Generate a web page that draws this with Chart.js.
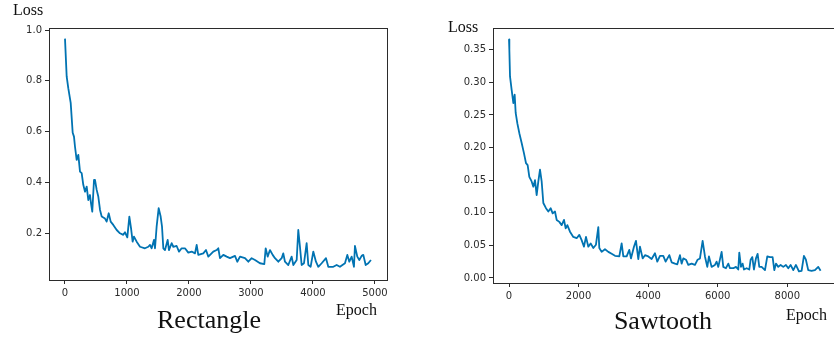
<!DOCTYPE html>
<html>
<head>
<meta charset="utf-8">
<script src="https://cdn.jsdelivr.net/npm/chart.js@4"></script>
<style>
  html, body { margin:0; padding:0; background:#fff; width:834px; height:337px; overflow:hidden; }
  .wrap { position:absolute; top:0; height:337px; }
  .lbl { position:absolute; font-family:"Liberation Serif", serif; line-height:1; color:#111; white-space:nowrap; }
  .small { font-size:16px; }
  .big { font-size:26px; transform:translateX(-50%); }
</style>
</head>
<body>
<div class="wrap" style="left:0;width:420px"><canvas id="chart-rect" width="420" height="337"></canvas></div>
<div class="wrap" style="left:420px;width:420px"><canvas id="chart-saw" width="420" height="337"></canvas></div>

<div class="lbl small" style="left:13px;top:2px">Loss</div>
<div class="lbl small" style="left:336px;top:302px">Epoch</div>
<div class="lbl big" style="left:209px;top:307px">Rectangle</div>

<div class="lbl small" style="left:448px;top:19px">Loss</div>
<div class="lbl small" style="left:786px;top:307px">Epoch</div>
<div class="lbl big" style="left:663px;top:308px">Sawtooth</div>

<script>
// ========================
// DONNEES
// ========================
const EPOCHS_RECT = [0,27,53,92,124,145,161,188,215,242,269,295,323,350,376,403,419,440,468,484,
  511,537,565,592,645,672,705,737,779,834,887,940,968,1005,1038,1065,1091,1113,1156,1210,
  1290,1344,1371,1398,1435,1452,1478,1511,1543,1565,1586,1613,1656,1677,1720,1747,1801,1839,1882,1935,
  1989,2043,2097,2124,2150,2231,2274,2312,2392,2446,2473,2500,2554,2608,2661,2742,2779,2823,2903,2957,
  3011,3065,3145,3215,3237,3269,3306,3350,3387,3441,3495,3521,3548,3602,3656,3683,3737,3763,3790,3817,
  3855,3898,3925,3962,4005,4048,4086,4140,4210,4247,4328,4382,4435,4516,4554,4586,4624,4661,4677,4715,
  4747,4785,4812,4850,4892,4935];
const LOSS_RECT = [0.966,0.817,0.771,0.713,0.595,0.580,0.541,0.488,0.508,0.442,0.436,0.390,0.363,0.383,0.330,0.350,0.318,0.284,0.409,0.409,
  0.370,0.344,0.291,0.265,0.257,0.245,0.278,0.245,0.232,0.212,0.199,0.193,0.203,0.183,0.265,0.219,0.166,0.186,0.166,0.146,
  0.140,0.146,0.153,0.140,0.173,0.140,0.225,0.298,0.265,0.225,0.140,0.133,0.173,0.133,0.160,0.146,0.149,0.127,0.140,0.140,
  0.123,0.127,0.120,0.153,0.114,0.120,0.133,0.107,0.127,0.133,0.140,0.101,0.114,0.107,0.101,0.110,0.087,0.107,0.101,0.087,
  0.101,0.094,0.081,0.078,0.140,0.107,0.133,0.114,0.101,0.087,0.101,0.120,0.087,0.074,0.107,0.074,0.094,0.212,0.146,0.074,
  0.081,0.160,0.074,0.067,0.127,0.087,0.067,0.081,0.101,0.067,0.067,0.074,0.067,0.081,0.114,0.087,0.107,0.067,0.149,0.107,
  0.094,0.110,0.114,0.074,0.081,0.094];

const EPOCHS_SAW = [0,10,29,77,125,163,192,240,297,364,431,489,536,584,651,699,747,795,843,891,
  939,987,1063,1130,1197,1255,1322,1370,1447,1514,1581,1629,1677,1753,1849,1945,2021,2088,2155,2213,
  2280,2347,2424,2500,2567,2596,2663,2759,2855,2951,3047,3171,3238,3286,3382,3458,3506,3592,3650,3717,
  3765,3842,3909,4004,4100,4196,4263,4340,4435,4503,4608,4675,4771,4838,4914,4962,5010,5087,5154,5250,
  5346,5422,5489,5566,5633,5700,5748,5824,5920,5968,6016,6112,6160,6237,6304,6352,6448,6524,6591,6620,
  6668,6716,6754,6831,6907,6946,6994,7041,7099,7147,7195,7262,7358,7425,7501,7578,7626,7674,7741,7808,
  7884,7961,8028,8095,8172,8248,8334,8411,8478,8535,8602,8698,8794,8890,8957];
const LOSS_SAW = [0.366,0.350,0.309,0.288,0.268,0.281,0.253,0.237,0.222,0.207,0.191,0.176,0.173,0.155,0.148,0.140,0.150,0.127,0.148,0.166,
  0.148,0.115,0.107,0.102,0.107,0.099,0.102,0.089,0.086,0.081,0.089,0.076,0.081,0.071,0.063,0.061,0.066,0.058,0.048,0.063,
  0.048,0.053,0.046,0.051,0.078,0.046,0.040,0.044,0.040,0.037,0.034,0.033,0.053,0.033,0.033,0.043,0.030,0.048,0.057,0.029,
  0.048,0.030,0.035,0.033,0.029,0.038,0.025,0.034,0.034,0.025,0.035,0.024,0.022,0.021,0.035,0.022,0.030,0.028,0.020,0.022,
  0.020,0.028,0.030,0.057,0.033,0.017,0.033,0.017,0.020,0.025,0.017,0.040,0.017,0.015,0.022,0.015,0.015,0.017,0.013,0.039,
  0.017,0.022,0.013,0.015,0.013,0.028,0.032,0.013,0.030,0.037,0.017,0.017,0.012,0.033,0.032,0.032,0.012,0.022,0.017,0.020,
  0.017,0.020,0.015,0.020,0.012,0.020,0.010,0.011,0.034,0.028,0.012,0.011,0.012,0.017,0.011];

const XTICKS_RECT = [0,1000,2000,3000,4000,5000];
const YTICKS_RECT = [0.2,0.4,0.6,0.8,1.0];
const XTICKS_SAW = [0,2000,4000,6000,8000];
const YTICKS_SAW = [0,0.05,0.10,0.15,0.20,0.25,0.30,0.35];

const LINE_COLOR = '#0173b2';
const AXIS_COLOR = '#2b2b2b';

// ========================
// OUTILS
// ========================
const cadrePlugin = {
  id: 'cadre',
  afterDraw(chart) {
    const a = chart.chartArea, ctx = chart.ctx;
    ctx.save();
    ctx.strokeStyle = AXIS_COLOR;
    ctx.lineWidth = 1;
    ctx.strokeRect(Math.round(a.left)+0.5, Math.round(a.top)+0.5, Math.round(a.right-a.left), Math.round(a.bottom-a.top));
    ctx.restore();
  }
};

function makeChart(id, epochs, loss, cfg) {
  const pts = epochs.map((e, i) => ({ x: e, y: loss[i] }));
  const tickFont = { family: 'DejaVu Sans', size: 10 };
  return new Chart(document.getElementById(id), {
    type: 'line',
    data: { datasets: [{ data: pts, borderColor: LINE_COLOR, borderWidth: 1.8, pointRadius: 0, tension: 0, fill: false, borderJoinStyle: 'round' }] },
    options: {
      responsive: false, animation: false, events: [],
      layout: { padding: { left: 0, top: cfg.top, right: cfg.right, bottom: 0 } },
      plugins: { legend: { display: false }, tooltip: { enabled: false } },
      scales: {
        x: {
          type: 'linear', min: cfg.xmin, max: cfg.xmax,
          border: { display: false },
          grid: { drawOnChartArea: false, drawTicks: true, tickLength: 4, color: AXIS_COLOR },
          ticks: { font: tickFont, color: AXIS_COLOR, padding: 3, maxRotation: 0, callback: v => String(v) },
          afterBuildTicks: s => { s.ticks = cfg.xticks.map(v => ({ value: v })); },
          afterFit: s => { s.height = cfg.xh; }
        },
        y: {
          type: 'linear', min: cfg.ymin, max: cfg.ymax,
          border: { display: false },
          grid: { drawOnChartArea: false, drawTicks: true, tickLength: 4, color: AXIS_COLOR },
          ticks: { font: tickFont, color: AXIS_COLOR, padding: 3, callback: v => v.toFixed(cfg.dec) },
          afterBuildTicks: s => { s.ticks = cfg.yticks.map(v => ({ value: v })); },
          afterFit: s => { s.width = cfg.yw; }
        }
      }
    },
    plugins: [cadrePlugin]
  });
}

// ========================
// GRAPHIQUES
// ========================
makeChart('chart-rect', EPOCHS_RECT, LOSS_RECT, {
  xmin: -258, xmax: 5194, ymin: 0.015, ymax: 1.008,
  xticks: XTICKS_RECT, yticks: YTICKS_RECT, dec: 1,
  top: 28, right: 33, xh: 57, yw: 49
});

makeChart('chart-saw', EPOCHS_SAW, LOSS_SAW, {
  xmin: -460, xmax: 9400, ymin: -0.0077, ymax: 0.3833,
  xticks: XTICKS_SAW, yticks: YTICKS_SAW, dec: 2,
  top: 28, right: 4, xh: 54, yw: 73
});
</script>
</body>
</html>
